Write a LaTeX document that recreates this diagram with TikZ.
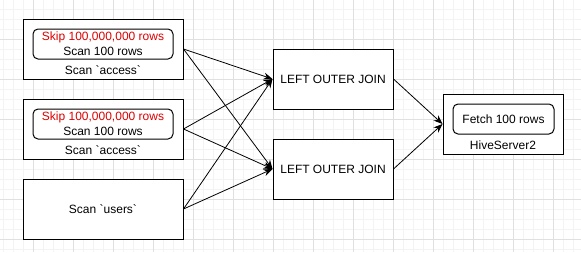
\documentclass[tikz,border=0pt]{standalone}
\usepackage{fontspec}
\setmainfont{Liberation Sans}
\usetikzlibrary{arrows.meta}
\definecolor{gridminor}{HTML}{F3F3F3}
\definecolor{gridmajor}{HTML}{E0E0E0}
\definecolor{skipred}{HTML}{DD0000}
\tikzset{
  box/.style={draw=black, line width=1pt, minimum width=160pt, minimum height=60pt, inner sep=0pt, fill=white},
  joinbox/.style={draw=black, line width=1pt, minimum width=120pt, minimum height=60pt, inner sep=0pt, fill=white, font=\fontsize{12}{14}\selectfont},
  innerbox/.style={draw=black, line width=1pt, rounded corners=5pt, minimum height=30pt, inner sep=0pt, align=center, font=\fontsize{12}{15}\selectfont},
  lbl/.style={inner sep=0pt, font=\fontsize{12}{14}\selectfont},
  conn/.style={line width=0.8pt, -{Stealth[length=9pt,width=7pt]}}
}
\begin{document}
\begin{tikzpicture}[x=1pt,y=-1pt]
\useasboundingbox (0,0) rectangle (581,252);
% grid
\foreach \x in {3,13,...,581} \draw[gridminor, line width=0.6pt] (\x,0) -- (\x,252);
\foreach \y in {9,19,...,252} \draw[gridminor, line width=0.6pt] (0,\y) -- (581,\y);
\foreach \x in {33,73,...,581} \draw[gridmajor, line width=0.8pt] (\x,0) -- (\x,252);
\foreach \y in {39,79,...,252} \draw[gridmajor, line width=0.8pt] (0,\y) -- (581,\y);
% left boxes
\node[box] (b1) at (103,49) {};
\node[innerbox, minimum width=140pt] (i1) at (103,44) {\textcolor{skipred}{Skip 100,000,000 rows}\\Scan 100 rows};
\node[lbl] (l1) at (103,70) {Scan \textasciigrave access\textasciigrave};
\node[box] (b2) at (103,129) {};
\node[innerbox, minimum width=140pt] (i2) at (103,124) {\textcolor{skipred}{Skip 100,000,000 rows}\\Scan 100 rows};
\node[lbl] (l2) at (103,150) {Scan \textasciigrave access\textasciigrave};
\node[box, font=\fontsize{12}{14}\selectfont] (b3) at (103,209) {Scan \textasciigrave users\textasciigrave};
% joins
\node[joinbox] (j1) at (333,79) {LEFT OUTER JOIN};
\node[joinbox] (j2) at (333,169) {LEFT OUTER JOIN};
% hive
\node[joinbox] (h) at (503,124) {};
\node[innerbox, minimum width=101pt] (hi) at (503.5,119) {Fetch 100 rows};
\node[lbl] (hl) at (503,145) {HiveServer2};
% connectors
\draw[conn] (b1.east) -- (j1.west);
\draw[conn] (b1.east) -- (j2.west);
\draw[conn] (b2.east) -- (j1.west);
\draw[conn] (b2.east) -- (j2.west);
\draw[conn] (b3.east) -- (j1.west);
\draw[conn] (b3.east) -- (j2.west);
\draw[conn] (j1.east) -- (h.west);
\draw[conn] (j2.east) -- (h.west);
\end{tikzpicture}
\end{document}
